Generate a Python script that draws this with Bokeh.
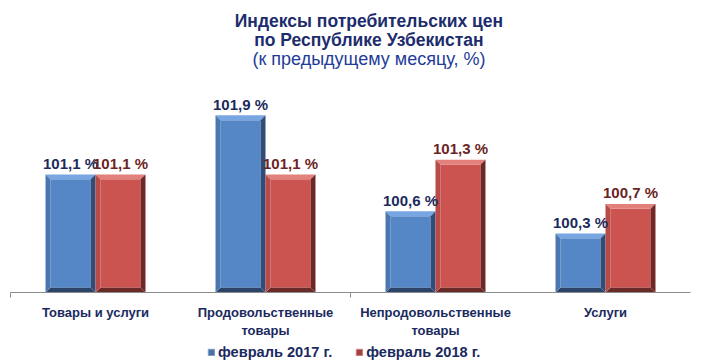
from bokeh.plotting import figure
from bokeh.layouts import column
from bokeh.models import (Range1d, FixedTicker, Legend, LegendItem,
                          ColumnDataSource)
from bokeh.embed import file_html
from bokeh.resources import INLINE
from bokeh.core.properties import value

# ---- data ----
categories = ["Товары и услуги", "Продовольственные\nтовары",
              "Непродовольственные\nтовары", "Услуги"]
feb2017 = [101.1, 101.9, 100.6, 100.3]
feb2018 = [101.1, 101.1, 101.3, 100.7]
series_names = ["февраль 2017 г.", "февраль 2018 г."]
title_lines = ["Индексы потребительских цен", "по Республике Узбекистан",
               "(к предыдущему месяцу, %)"]

FONT = value("Liberation Sans")
Y0 = 99.5
BAR_W = 0.294
BX = 0.029   # bevel width (x units)
BY = 0.066   # bevel height (y units)
W = 702


def bare(fig):
    fig.outline_line_color = None
    fig.xgrid.visible = False
    fig.ygrid.visible = False
    return fig


# ---- header (title) ----
hdr = bare(figure(width=W, height=80, output_backend="svg", toolbar_location=None,
                  x_range=Range1d(0, W), y_range=Range1d(80, 0),
                  x_axis_location=None, y_axis_location=None,
                  min_border=0))
hdr.text(x=[370, 370], y=[20, 39], text=title_lines[:2], text_font=FONT,
         text_font_style="bold", text_font_size="17.5px", text_color="#1C2C6C",
         text_align="center", text_baseline="middle")
hdr.text(x=[370], y=[58], text=title_lines[2:], text_font=FONT,
         text_font_style="normal", text_font_size="18px", text_color="#1F3C98",
         text_align="center", text_baseline="middle")

# ---- main chart ----
p = bare(figure(width=W, height=260, output_backend="svg", toolbar_location=None,
                x_range=Range1d(0, 4), y_range=Range1d(Y0, 102.372),
                y_axis_location=None, min_border_left=10, min_border_right=12,
                min_border_top=0, min_border_bottom=41))

blue = dict(face="#5587C7", top="#78A6E0", left="#4A77B0", right="#2F4D78", bottom="#2C4468")
red = dict(face="#CC5450", top="#E2817C", left="#B84B48", right="#702826", bottom="#6A2A28")


def bevel(x0, x1, y0, y1):
    ix0, ix1, iy0, iy1 = x0 + BX, x1 - BX, y0 + BY, y1 - BY
    return {
        "face": ([ix0, ix1, ix1, ix0], [iy0, iy0, iy1, iy1]),
        "top": ([x0, x1, ix1, ix0], [y1, y1, iy1, iy1]),
        "bottom": ([x0, x1, ix1, ix0], [y0, y0, iy0, iy0]),
        "left": ([x0, ix0, ix0, x0], [y0, iy0, iy1, y1]),
        "right": ([x1, ix1, ix1, x1], [y0, iy0, iy1, y1]),
    }


xs, ys, cols = [], [], []
for i in range(len(categories)):
    c = i + 0.5
    for (x0, x1, v, pal) in ((c - BAR_W, c, feb2017[i], blue),
                             (c, c + BAR_W, feb2018[i], red)):
        parts = bevel(x0, x1, Y0, v)
        for k in ("face", "top", "bottom", "left", "right"):
            xs.append(parts[k][0])
            ys.append(parts[k][1])
            cols.append(pal[k])
p.patches(xs="xs", ys="ys", fill_color="cols", line_color=None,
          source=ColumnDataSource(dict(xs=xs, ys=ys, cols=cols)))


def fmt(v):
    return ("%.1f %%" % v).replace(".", ",")


p.text(x=[i + 0.5 - BAR_W / 2 for i in range(4)], y=feb2017,
       text=[fmt(v) for v in feb2017], text_font=FONT, text_font_style="bold",
       text_font_size="15px", text_color="#1B2A5C", text_align="center",
       text_baseline="middle", y_offset=-11)
p.text(x=[i + 0.5 + BAR_W / 2 for i in range(4)], y=feb2018,
       text=[fmt(v) for v in feb2018], text_font=FONT, text_font_style="bold",
       text_font_size="15px", text_color="#6B2424", text_align="center",
       text_baseline="middle", y_offset=-11)

ax = p.xaxis[0]
ax.ticker = FixedTicker(ticks=[i + 0.5 for i in range(4)], minor_ticks=[0, 2])
ax.major_label_overrides = {i + 0.5: categories[i] for i in range(4)}
ax.major_tick_out = 0
ax.major_tick_in = 0
ax.minor_tick_out = 5
ax.minor_tick_in = 0
ax.minor_tick_line_color = "#8C8C8C"
ax.axis_line_color = "#8C8C8C"
ax.major_label_standoff = 7
ax.major_label_text_font = "Liberation Sans"
ax.major_label_text_font_style = "bold"
ax.major_label_text_font_size = "13px"
ax.major_label_text_color = "#1A2A5E"

# ---- legend strip ----
lg = bare(figure(width=W, height=23, output_backend="svg", toolbar_location=None,
                 x_range=Range1d(0, 1), y_range=Range1d(0, 1),
                 x_axis_location=None, y_axis_location=None, min_border=0))
# swatch renderer (kept outside the visible range; only its legend glyphs show)
swatch = ColumnDataSource(dict(left=[-3, -3], right=[-2, -2], bottom=[-3, -3],
                               top=[-2, -2], color=["#4A74A8", "#A5403D"],
                               edge=["#7E9CC4", "#C88080"]))
rq = lg.quad(left="left", right="right", bottom="bottom", top="top",
             fill_color="color", line_color="edge", source=swatch)
leg = Legend(items=[LegendItem(label=series_names[0], renderers=[rq], index=0),
                    LegendItem(label=series_names[1], renderers=[rq], index=1)],
             orientation="horizontal", location=(197, 3),
             glyph_width=8, glyph_height=8, label_standoff=3, spacing=23,
             padding=0, margin=0, border_line_color=None,
             background_fill_alpha=0,
             label_text_font="Liberation Sans", label_text_font_style="bold",
             label_text_font_size="14.6px", label_text_color="#1A2A5E")
lg.add_layout(leg, "center")

layout = column(hdr, p, lg, spacing=0)
open("out.html", "w").write(file_html(layout, INLINE))
